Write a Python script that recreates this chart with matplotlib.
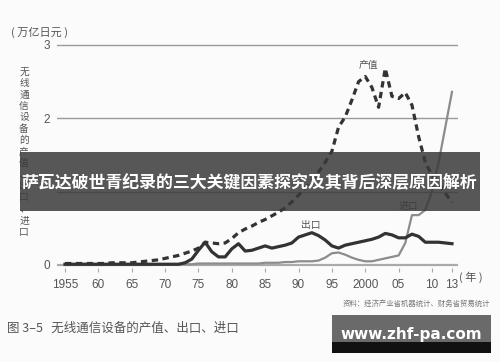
import matplotlib
matplotlib.use("Agg")
import matplotlib.pyplot as plt
from matplotlib.patches import Rectangle

plt.rcParams['font.family'] = ['Noto Sans CJK SC', 'DejaVu Sans']

# ---- data (万亿日元) ----
years = list(range(1955, 2014))
production = [0.02, 0.02, 0.02, 0.02, 0.02, 0.02, 0.02, 0.03, 0.03, 0.03,
              0.03, 0.04, 0.05, 0.06, 0.07, 0.09, 0.11, 0.13, 0.16, 0.19,
              0.23, 0.31, 0.30, 0.29, 0.30, 0.36, 0.44, 0.49, 0.53, 0.58,
              0.62, 0.67, 0.72, 0.78, 0.86, 0.95, 1.05, 1.15, 1.27, 1.40,
              1.55, 1.88, 2.02, 2.25, 2.50, 2.57, 2.42, 2.15, 2.68, 2.30,
              2.27, 2.35, 2.18, 1.75, 1.40, 1.22, 1.12, 0.98, 0.85]
exports = [0.01, 0.01, 0.01, 0.01, 0.01, 0.01, 0.01, 0.01, 0.01, 0.01,
           0.01, 0.01, 0.01, 0.01, 0.01, 0.01, 0.01, 0.01, 0.03, 0.08,
           0.20, 0.31, 0.18, 0.11, 0.11, 0.22, 0.29, 0.19, 0.20, 0.23,
           0.26, 0.23, 0.25, 0.27, 0.30, 0.38, 0.41, 0.44, 0.40, 0.34,
           0.26, 0.23, 0.27, 0.29, 0.31, 0.33, 0.35, 0.38, 0.43, 0.41,
           0.37, 0.37, 0.42, 0.39, 0.31, 0.31, 0.31, 0.30, 0.29]
imports = [0.0, 0.0, 0.0, 0.0, 0.0, 0.0, 0.0, 0.0, 0.0, 0.0,
           0.0, 0.0, 0.0, 0.0, 0.01, 0.01, 0.01, 0.01, 0.01, 0.01,
           0.02, 0.02, 0.02, 0.02, 0.02, 0.02, 0.02, 0.02, 0.02, 0.02,
           0.03, 0.03, 0.03, 0.04, 0.04, 0.05, 0.05, 0.05, 0.06, 0.10,
           0.16, 0.17, 0.14, 0.10, 0.07, 0.05, 0.05, 0.07, 0.09, 0.11,
           0.13, 0.30, 0.68, 0.68, 0.75, 1.00, 1.40, 1.88, 2.36]

xtick_pos = [1955, 1960, 1965, 1970, 1975, 1980, 1985, 1990, 1995, 2000, 2005, 2010, 2013]
xtick_labels = ['1955', '60', '65', '70', '75', '80', '85', '90', '95', '2000', '05', '10', '13']
ytick_pos = [0, 2, 3]
ytick_labels = ['0', '2', '3']
grid_levels = [1, 2, 3]

W, H = 500, 362
fig = plt.figure(figsize=(5.0, 3.62), dpi=100)
fig.patch.set_facecolor('#fbfbfb')

def fx(px):
    return px / W

def fy(py):
    return 1 - py / H

# axes: x px 57..458, y px 272.3..41.3 for data -0.1..3.05
ax = fig.add_axes([fx(57), fy(272.3), (458 - 57) / W, (272.3 - 41.3) / H])
ax.set_facecolor('none')
ax.set_xlim(1953.8, 2013.9)
ax.set_ylim(-0.1, 3.05)
for s in ax.spines.values():
    s.set_visible(False)

for v in grid_levels:
    ax.axhline(v, color='#9a9a9a', lw=1.0, zorder=1)
ax.axhline(0, color='#aaaaaa', lw=1.6, zorder=1)

ax.plot(years, imports, color='#8c8c8c', lw=1.6, zorder=3, solid_joinstyle='round')
ax.plot(years, exports, color='#333333', lw=2.3, zorder=4, solid_joinstyle='round')
ax.plot(years, production, color='#333333', lw=2.3, ls=(0, (2.0, 1.4)), zorder=5)

ax.set_xticks(xtick_pos)
ax.set_xticklabels(xtick_labels)
ax.set_yticks(ytick_pos)
ax.set_yticklabels(ytick_labels)
ax.tick_params(axis='x', direction='in', length=3, width=0.8, color='#aaaaaa',
               labelsize=8.5, labelcolor='#555555', pad=5)
ax.tick_params(axis='y', length=0, labelsize=8.5, labelcolor='#555555', pad=5)
for lab in ax.get_xticklabels() + ax.get_yticklabels():
    lab.set_family(['Liberation Sans', 'DejaVu Sans'])

# series labels
ax.text(2000.4, 2.73, '产值', fontsize=7, color='#555555', ha='center', va='center')
ax.text(1991.9, 0.55, '出口', fontsize=7, color='#555555', ha='center', va='center')
ax.text(2006.4, 0.80, '进口', fontsize=7, color='#555555', ha='center', va='center')

# unit and axis labels
fig.text(fx(11), fy(32), '( 万亿日元 )', fontsize=8, color='#555555', ha='left', va='center')
vlabel = '无线通信设备的产值、出口、进口'
for i, ch in enumerate(vlabel):
    fig.text(fx(24), fy(72 + i * 11.4), ch, fontsize=7, color='#555555', ha='center', va='center')
fig.text(fx(459), fy(277), '( 年 )', fontsize=8, color='#555555', ha='left', va='center')

# source and caption
fig.text(fx(490), fy(304), '资料：经济产业省机器统计、财务省贸易统计', fontsize=5.3,
         color='#777777', ha='right', va='center')
fig.text(fx(7), fy(328), '图 3–5   无线通信设备的产值、出口、进口', fontsize=9,
         color='#555555', ha='left', va='center')

# overlay banner
fig.patches.append(Rectangle((fx(20), fy(211)), (480 - 20) / W, (211 - 152) / H,
                             transform=fig.transFigure, facecolor='#3a3a3a', alpha=0.85,
                             edgecolor='none', zorder=10))
fig.text(fx(249), fy(183), '萨瓦达破世青纪录的三大关键因素探究及其背后深层原因解析',
         fontsize=12.2, fontweight='bold', color='white', ha='center', va='center', zorder=11)

# watermark
fig.patches.append(Rectangle((fx(332), fy(342)), (491 - 332) / W, (342 - 315) / H,
                             transform=fig.transFigure, facecolor='#6a6a6a',
                             edgecolor='none', zorder=10))
fig.patches.append(Rectangle((fx(332), fy(353)), (491 - 332) / W, (353 - 342) / H,
                             transform=fig.transFigure, facecolor='#111111',
                             edgecolor='none', zorder=10))
fig.text(fx(411), fy(335), 'www.zhf-pa.com', fontsize=11, fontweight='bold',
         color='white', ha='center', va='center', zorder=11,
         family=['DejaVu Sans'])

fig.savefig('out.png', dpi=100, facecolor=fig.get_facecolor())
